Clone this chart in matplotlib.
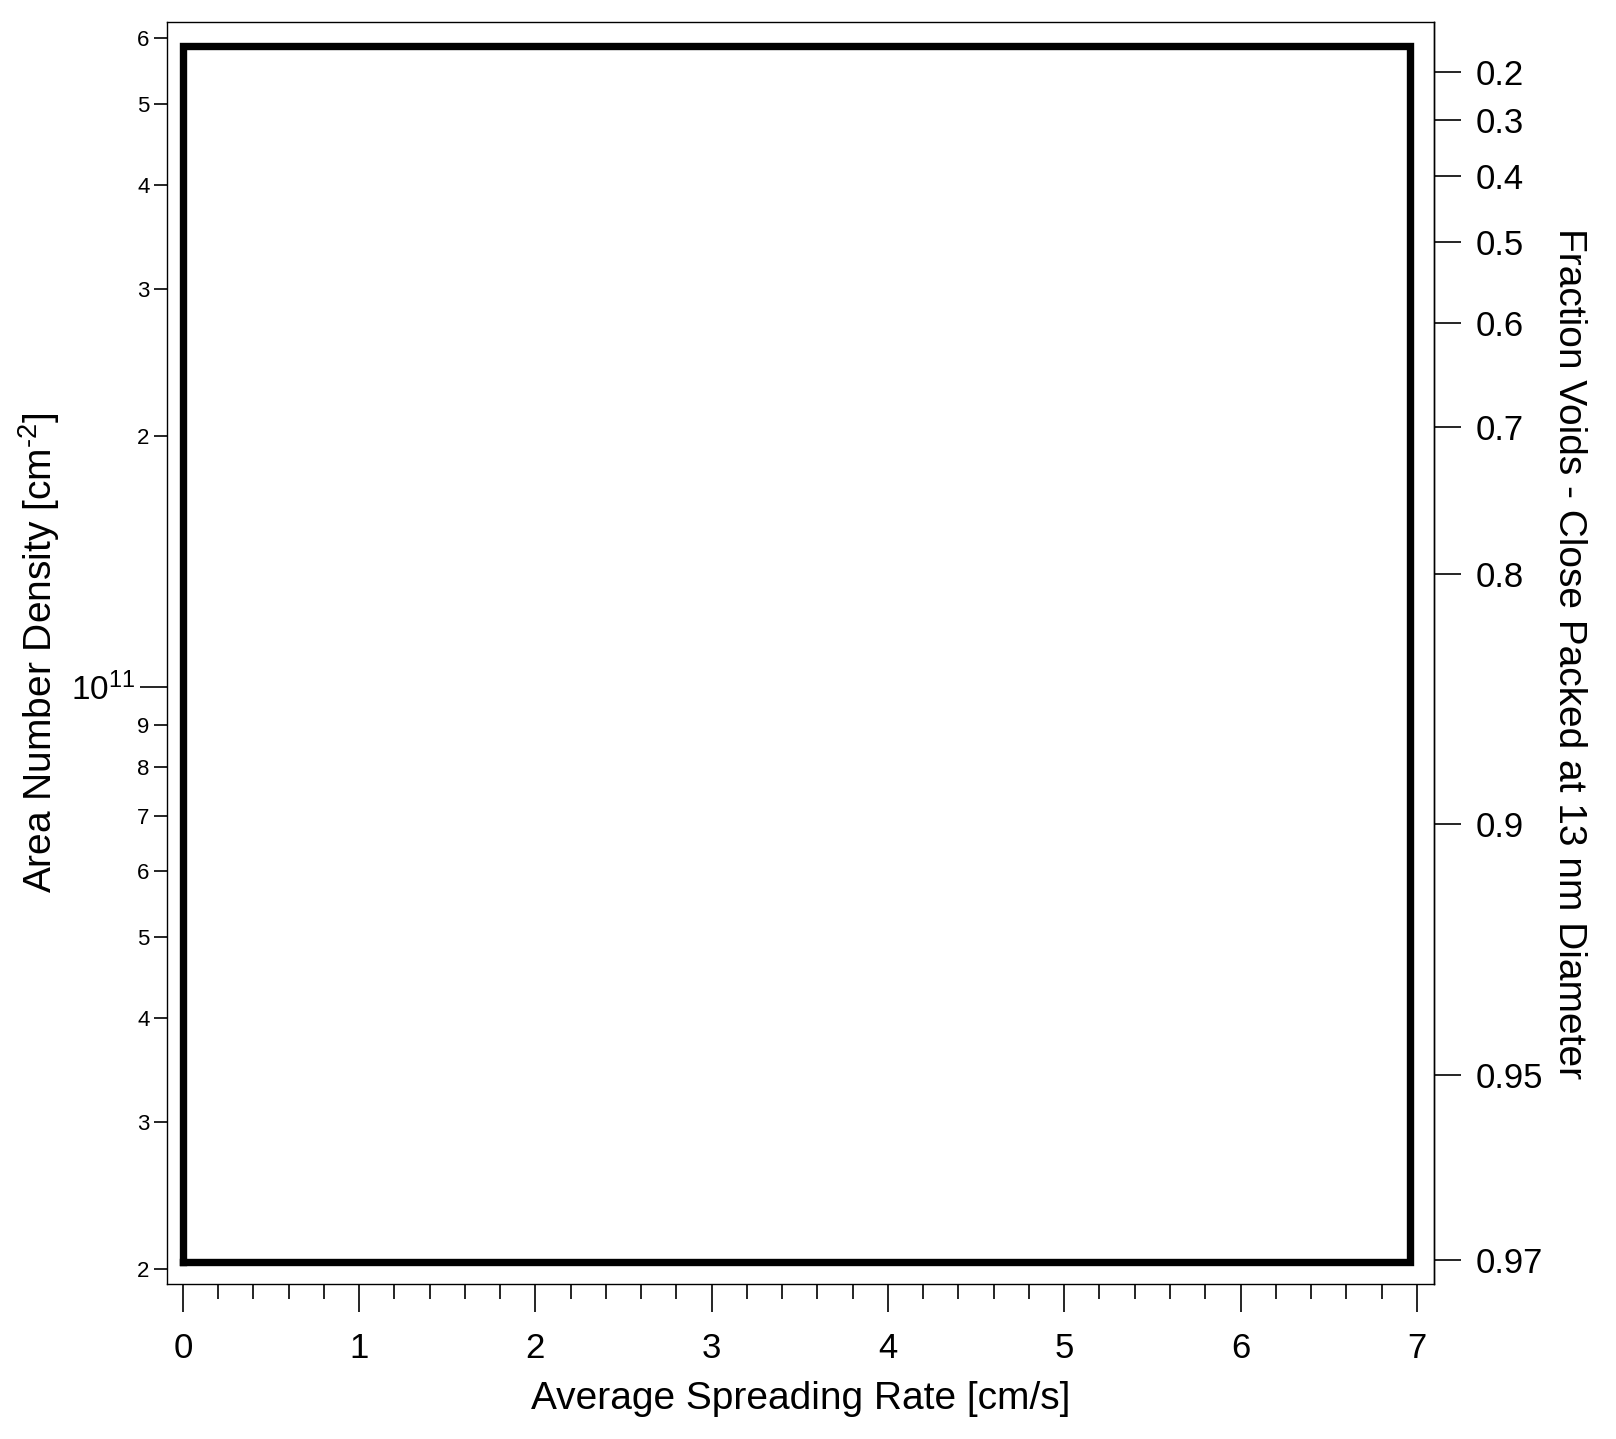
import numpy as np
import matplotlib
matplotlib.use("Agg")
import matplotlib.pyplot as plt
from matplotlib.ticker import FixedLocator, NullLocator, MultipleLocator, FuncFormatter

plt.rcParams['font.family'] = ['Liberation Sans', 'DejaVu Sans']
plt.rcParams['mathtext.fontset'] = 'custom'
plt.rcParams['mathtext.rm'] = 'Liberation Sans'
plt.rcParams['mathtext.it'] = 'Liberation Sans:italic'

# outline drawn on the chart (rate in cm/s, density in cm^-2)
rate = [0.0, 6.96, 6.96, 0.0, 0.0]
density = [2.04e10, 2.04e10, 5.87e11, 5.87e11, 2.04e10]

# axis ranges
x_range = (-0.091, 7.096)
y_range = (1.917e10, 6.277e11)

# right axis: void fraction relative to close packing of 13 nm spheres
diameter_cm = 13e-7
n_close = 2.0 / (np.sqrt(3) * diameter_cm ** 2)
void_ticks = [0.2, 0.3, 0.4, 0.5, 0.6, 0.7, 0.8, 0.9, 0.95, 0.97]
void_labels = ["0.2", "0.3", "0.4", "0.5", "0.6", "0.7", "0.8", "0.9", "0.95", "0.97"]

left_minor = [2e10, 3e10, 4e10, 5e10, 6e10, 7e10, 8e10, 9e10,
              2e11, 3e11, 4e11, 5e11, 6e11]


def to_void(n):
    return 1.0 - np.asarray(n) / n_close


def to_density(f):
    return n_close * (1.0 - np.asarray(f))


fig = plt.figure(figsize=(16.16, 14.39), dpi=100)
ax = fig.add_axes([0.1032, 0.1075, 0.7840, 0.8772])

ax.plot(rate, density, color='black', lw=5.3, solid_joinstyle='miter')

ax.set_yscale('log')
ax.set_xlim(*x_range)
ax.set_ylim(*y_range)

for s in ax.spines.values():
    s.set_linewidth(1.0)

# x axis
ax.xaxis.set_major_locator(MultipleLocator(1))
ax.xaxis.set_minor_locator(MultipleLocator(0.2))
ax.tick_params(axis='x', which='major', direction='out', length=20, width=1.2,
               pad=14, labelsize=25)
ax.tick_params(axis='x', which='minor', direction='out', length=10.5, width=1.2)

# left y axis
ax.yaxis.set_major_locator(FixedLocator([1e11]))
ax.yaxis.set_major_formatter(FuncFormatter(lambda v, p: r"$\mathregular{10^{11}}$"))
ax.yaxis.set_minor_locator(FixedLocator(left_minor))
ax.yaxis.set_minor_formatter(FuncFormatter(
    lambda v, p: "%d" % round(v / 10 ** np.floor(np.log10(v) + 1e-9))))
ax.tick_params(axis='y', which='major', direction='out', length=19.5, width=1.2,
               pad=3.5, labelsize=24)
ax.tick_params(axis='y', which='minor', direction='out', length=9.5, width=1.2,
               pad=3, labelsize=16)

ax.set_xlabel("Average Spreading Rate [cm/s]", fontsize=28, labelpad=12)
ax.set_ylabel(r"Area Number Density [cm$^{\text{-2}}$]", fontsize=28,
              va='center')
ax.yaxis.set_label_coords(-0.1008, 0.5)

# right axis
sec = ax.secondary_yaxis('right', functions=(to_void, to_density))
sec.set_yticks(void_ticks)
sec.set_yticklabels(void_labels)
sec.yaxis.set_minor_locator(NullLocator())
sec.tick_params(axis='y', direction='out', length=19.5, width=1.2, pad=11, labelsize=25)
sec.spines['right'].set_linewidth(1.0)
ax.text(1.1068, 0.5, "Fraction Voids - Close Packed at 13 nm Diameter",
        transform=ax.transAxes, fontsize=28, rotation=-90,
        ha='center', va='center', rotation_mode='anchor')

fig.savefig("out.png", dpi=100)
